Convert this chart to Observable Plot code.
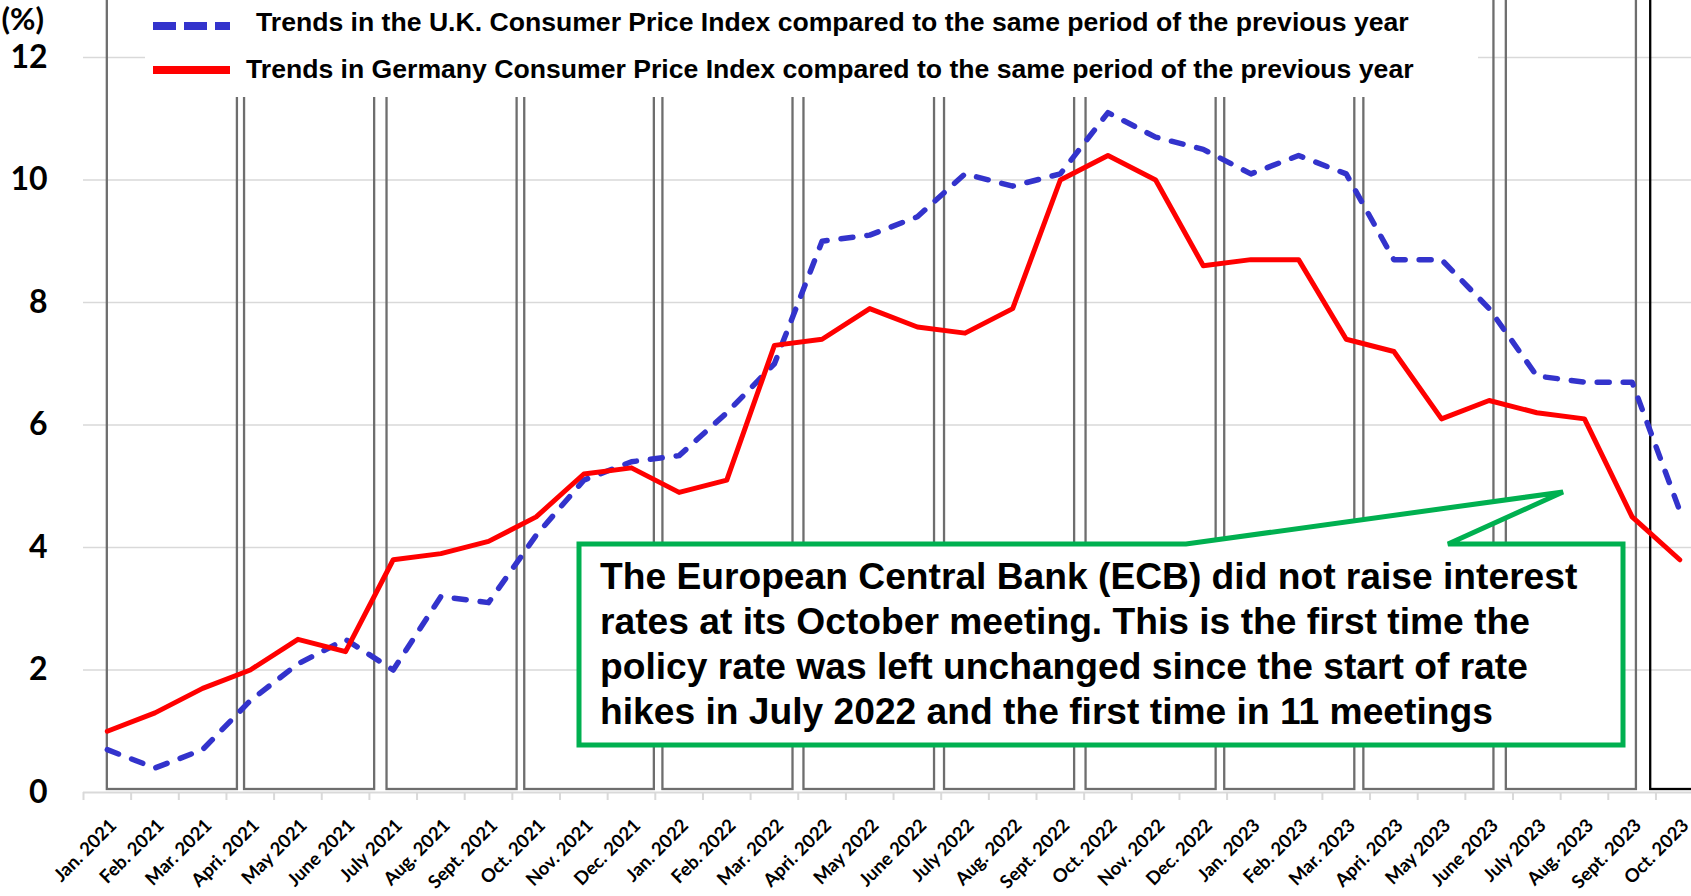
<!DOCTYPE html>
<html><head><meta charset="utf-8">
<script src="https://cdn.jsdelivr.net/npm/d3@7"></script>
<script src="https://cdn.jsdelivr.net/npm/@observablehq/plot@0.6"></script>
<style>
html,body{margin:0;padding:0;background:#fff;}
#wrap{position:relative;width:1691px;height:896px;overflow:hidden;background:#fff;}
#wrap > svg{position:absolute;left:0;top:0;}
#overlay{position:absolute;left:0;top:0;pointer-events:none;}
</style></head><body><div id="wrap"></div>
<script>
// ---- data ----
const months = ["Jan. 2021","Feb. 2021","Mar. 2021","Apri. 2021","May 2021","June 2021","July 2021","Aug. 2021","Sept. 2021","Oct. 2021","Nov. 2021","Dec. 2021",
"Jan. 2022","Feb. 2022","Mar. 2022","Apri. 2022","May 2022","June 2022","July 2022","Aug. 2022","Sept. 2022","Oct. 2022","Nov. 2022","Dec. 2022",
"Jan. 2023","Feb. 2023","Mar. 2023","Apri. 2023","May 2023","June 2023","July 2023","Aug. 2023","Sept. 2023","Oct. 2023"];
const ukCPI = [0.7,0.4,0.7,1.5,2.1,2.5,2.0,3.2,3.1,4.2,5.1,5.4,5.5,6.2,7.0,9.0,9.1,9.4,10.1,9.9,10.1,11.1,10.7,10.5,10.1,10.4,10.1,8.7,8.7,7.9,6.8,6.7,6.7,4.6];
const germanyCPI = [1.0,1.3,1.7,2.0,2.5,2.3,3.8,3.9,4.1,4.5,5.2,5.3,4.9,5.1,7.3,7.4,7.9,7.6,7.5,7.9,10.0,10.4,10.0,8.6,8.7,8.7,7.4,7.2,6.1,6.4,6.2,6.1,4.5,3.8];
// ECB meeting boxes, in month-index units (start, end)
const boxStart = [0.0,2.88,5.87,8.76,11.66,14.62,17.57,20.54,23.45,26.37,29.36,32.39];
const boxEnd   = [2.73,5.61,8.60,11.48,14.39,17.36,20.30,23.27,26.18,29.10,32.09,35.0];
const yTicks = [0,2,4,6,8,10,12];
const legendLabels = ["Trends in the U.K. Consumer Price Index compared to the same period of the previous year",
                      "Trends in Germany Consumer Price Index compared to the same period of the previous year"];
const calloutLines = ["The European Central Bank (ECB) did not raise interest",
                      "rates at its October meeting. This is the first time the",
                      "policy rate was left unchanged since the start of rate",
                      "hikes in July 2022 and the first time in 11 meetings"];
const yUnit = "(%)";

// ---- derived tables ----
const idx = months.map((_, i) => i);
const uk = idx.map(i => ({i, v: ukCPI[i]}));
const de = idx.map(i => ({i, v: germanyCPI[i]}));
const boxes = boxStart.map((s, k) => ({s, e: boxEnd[k]}));
const boundaries = d3.range(months.length + 1).map(i => i - 0.5);

const W = 1691, H = 896;
const chart = Plot.plot({
  width: W, height: H,
  marginLeft: 83, marginRight: 0, marginTop: 0, marginBottom: 104,
  x: {domain: [-0.5, months.length - 0.5], range: [83, 83 + months.length * 47.65]},
  y: {domain: [0, 12], range: [792, 57]},
  style: {background: "#fff"},
  marks: [
    Plot.ruleY(yTicks.filter(t => t > 0), {stroke: "#d9d9d9", strokeWidth: 1.5}),
    Plot.ruleY([0], {stroke: "#d9d9d9", strokeWidth: 2}),
    Plot.axisX(boundaries, {tickSize: 8, tickFormat: () => "", stroke: "#d9d9d9", strokeWidth: 2, label: null}),
    Plot.axisX(idx, {tickSize: 0, tickPadding: 30, tickRotate: -45, tickFormat: i => months[i], dx: 6,
      fontSize: 18.5, fontWeight: "bold", fontFamily: "Lato, sans-serif", fill: "#000", label: null}),
    Plot.axisY(yTicks, {tickSize: 0, tickPadding: 36, tickFormat: d => String(d), fontSize: 32, fontWeight: "bold",
      fontFamily: "Lato, sans-serif", fill: "#000", label: null}),
    Plot.rect(boxes.slice(0, -1), {x1: "s", x2: "e", y1: 0, y2: 13.5, fill: "none", stroke: "#6e6e6e", strokeWidth: 2.3, insetBottom: 3}),
    Plot.rect(boxes.slice(-1), {x1: "s", x2: "e", y1: 0, y2: 13.5, fill: "none", stroke: "#000", strokeWidth: 2.3, insetBottom: 3}),
    Plot.line(uk, {x: "i", y: "v", stroke: "#3333cc", strokeWidth: 5.5, strokeDasharray: "12,14", strokeLinecap: "round", strokeLinejoin: "round"}),
    Plot.line(de, {x: "i", y: "v", stroke: "#ff0000", strokeWidth: 5, strokeLinejoin: "round"})
  ]
});
const wrap = document.getElementById("wrap");
wrap.appendChild(chart);

// ---- overlay: legend, unit label, callout ----
const ov = d3.select(wrap).append("svg").attr("id", "overlay").attr("width", W).attr("height", H);
// unit
ov.append("text").attr("x", 44).attr("y", 30).attr("text-anchor", "end")
  .attr("font-family", "Lato, sans-serif").attr("font-weight", "bold").attr("font-size", 31).text(yUnit);
// legend
const lg = ov.append("g");
lg.append("rect").attr("x", 145).attr("y", 0).attr("width", 1333).attr("height", 97).attr("fill", "#fff");
lg.append("line").attr("x1", 153).attr("x2", 230).attr("y1", 26).attr("y2", 26)
  .attr("stroke", "#3333cc").attr("stroke-width", 8).attr("stroke-dasharray", "23,8");
lg.append("line").attr("x1", 153).attr("x2", 230).attr("y1", 70).attr("y2", 70)
  .attr("stroke", "#ff0000").attr("stroke-width", 8);
lg.append("text").attr("x", 256).attr("y", 31).text(legendLabels[0]);
lg.append("text").attr("x", 246).attr("y", 78).text(legendLabels[1]);
lg.selectAll("text").attr("font-family", "'Liberation Sans', Arial, sans-serif").attr("font-weight", "bold").attr("font-size", 26.6).attr("fill", "#000");
// callout
const co = ov.append("g");
co.append("path")
  .attr("d", "M579,544 L1186,544 L1563,492 L1448,544 L1623,544 L1623,745 L579,745 Z")
  .attr("fill", "#fff").attr("stroke", "#00b050").attr("stroke-width", 5).attr("stroke-linejoin", "miter");
co.selectAll("text").data(calloutLines).join("text")
  .attr("x", 600).attr("y", (d, k) => 589 + 45 * k)
  .attr("font-family", "'Liberation Sans', Arial, sans-serif").attr("font-weight", "bold").attr("font-size", 37.2).attr("fill", "#000")
  .text(d => d);
</script>
</body></html>
